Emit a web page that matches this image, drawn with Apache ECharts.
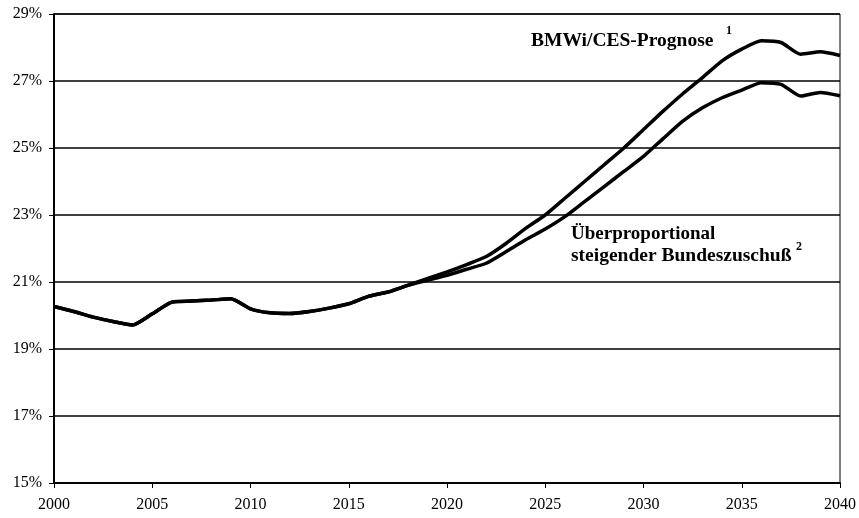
<!DOCTYPE html>
<html><head><meta charset="utf-8">
<script src="https://cdn.jsdelivr.net/npm/echarts@6/dist/echarts.min.js"></script>
<style>html,body{margin:0;padding:0;background:#fff}#c{width:859px;height:518px}</style>
</head><body><div id="c"></div>
<script>
const years = [2000,2001,2002,2003,2004,2005,2006,2007,2008,2009,2010,2011,2012,2013,2014,2015,2016,2017,2018,2019,2020,2021,2022,2023,2024,2025,2026,2027,2028,2029,2030,2031,2032,2033,2034,2035,2036,2037,2038,2039,2040];
const bmwi = [20.27,20.12,19.95,19.82,19.72,20.05,20.40,20.43,20.46,20.50,20.20,20.08,20.06,20.12,20.22,20.35,20.57,20.70,20.90,21.10,21.30,21.52,21.76,22.15,22.60,23.00,23.50,24.00,24.50,25.00,25.55,26.10,26.62,27.10,27.60,27.95,28.20,28.15,27.80,27.87,27.76];
const bund = [20.27,20.12,19.95,19.82,19.72,20.05,20.40,20.43,20.46,20.50,20.20,20.08,20.06,20.12,20.22,20.35,20.57,20.70,20.90,21.05,21.20,21.38,21.56,21.90,22.26,22.58,22.95,23.40,23.85,24.30,24.75,25.28,25.80,26.20,26.50,26.73,26.95,26.90,26.55,26.66,26.56];
const yTicks = [15,17,19,21,23,25,27,29];
const xTicks = [2000,2005,2010,2015,2020,2025,2030,2035,2040];
const label1 = 'BMWi/CES-Prognose';
const label2a = 'Überproportional';
const label2b = 'steigender Bundeszuschuß';

const font = '"Liberation Serif","DejaVu Serif",serif';
const chart = echarts.init(document.getElementById('c'));
chart.setOption({
  animation: false,
  backgroundColor: '#fff',
  grid: {left: 54, right: 19, top: 14, bottom: 35, show: true, borderColor: '#000', borderWidth: 1},
  xAxis: {
    type: 'value', min: xTicks[0], max: xTicks[xTicks.length-1], interval: 5,
    axisLine: {lineStyle: {color: '#000', width: 2}},
    axisTick: {show: true, length: 5, lineStyle: {color: '#000', width: 1}},
    axisLabel: {color: '#000', fontFamily: font, fontSize: 16, margin: 14, formatter: v => String(v)},
    splitLine: {show: false}
  },
  yAxis: {
    type: 'value', min: yTicks[0], max: yTicks[yTicks.length-1],
    axisLine: {show: true, lineStyle: {color: '#000', width: 2}},
    axisTick: {show: true, length: 5, customValues: yTicks, lineStyle: {color: '#000', width: 1}},
    axisLabel: {color: '#000', fontFamily: font, fontSize: 16, margin: 12, customValues: yTicks, formatter: v => v + '%'},
    splitLine: {show: true, lineStyle: {color: '#000', width: 1.5}}
  },
  series: [
    {type: 'line', data: years.map((y,i)=>[y,bmwi[i]]), showSymbol: false, lineStyle: {color: '#000', width: 3.5}, smooth: 0.2, z: 3},
    {type: 'line', data: years.map((y,i)=>[y,bund[i]]), showSymbol: false, lineStyle: {color: '#000', width: 3.5}, smooth: 0.2, z: 3}
  ],
  graphic: [
    {type: 'text', left: 531, top: 31, style: {text: label1, font: 'bold 19.5px ' + font, fill: '#000'}},
    {type: 'text', left: 726, top: 25, style: {text: '1', font: 'bold 12px ' + font, fill: '#000'}},
    {type: 'text', left: 571, top: 225, style: {text: label2a, font: 'bold 19px ' + font, fill: '#000'}},
    {type: 'text', left: 571, top: 246, style: {text: label2b, font: 'bold 19.5px ' + font, fill: '#000'}},
    {type: 'text', left: 796, top: 241, style: {text: '2', font: 'bold 12px ' + font, fill: '#000'}}
  ]
});
</script></body></html>
